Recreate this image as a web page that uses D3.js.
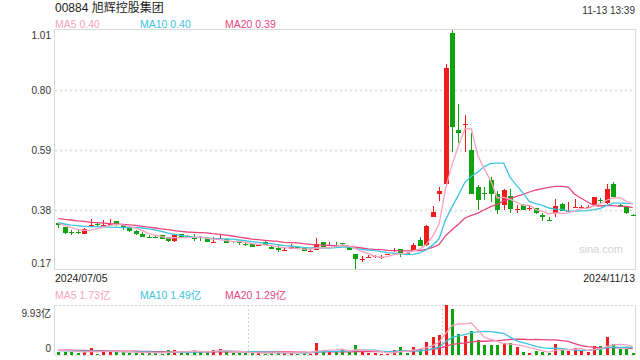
<!DOCTYPE html>
<html><head><meta charset="utf-8">
<script src="https://cdn.jsdelivr.net/npm/d3@7"></script>
<style>
body{margin:0;background:#fff}
svg{display:block;font-family:Arial,"Liberation Sans","Noto Sans CJK SC",sans-serif}
</style>
</head><body>
<svg id="c" width="640" height="360"></svg>
<script>
// ---------- data ----------
const title = "00884 旭辉控股集团";
const stamp = "11-13 13:39";
const dateLabels = ["2024/07/05", "2024/11/13"];
const priceTicks = [0.17, 0.38, 0.59, 0.80, 1.01];

const open  = [.333,.319,.303,.302,.297,.322,.332,.325,.329,.340, .326,.317,.306,.297,.286,.286,.291,.284,.273,.296,
               .288,.283,.284,.277,.266,.280,.277,.270,.271,.261, .260,.256,.269,.252,.248,.239,.245,.250,.246,.236,
               .240,.268,.256,.258,.263,.250,.226,.207,.214,.218, .215,.223,.239,.242,.231,.240,.275,.257,.357,.436,
               .471,1.000,.660,.677,.590,.461,.438,.486,.437,.399, .428,.382,.399,.384,.386,.362,.346,.368,.401,.377,
               .389,.389,.391,.399,.414,.403,.471,.398,.392,.363];
const high  = [.335,.321,.310,.309,.316,.347,.338,.344,.347,.341, .330,.318,.311,.302,.293,.288,.294,.285,.293,.297,
               .293,.296,.290,.279,.284,.295,.282,.272,.272,.267, .261,.262,.270,.253,.256,.249,.261,.252,.247,.243,
               .283,.269,.268,.268,.266,.252,.227,.218,.221,.224, .222,.227,.246,.244,.233,.264,.287,.327,.393,.462,
               .891,1.010,.751,.711,.650,.466,.461,.495,.445,.455, .455,.397,.400,.397,.388,.368,.354,.417,.404,.407,
               .417,.398,.398,.427,.421,.471,.478,.402,.394,.366];
const low   = [.318,.297,.294,.295,.296,.321,.322,.323,.329,.324, .310,.304,.294,.286,.283,.284,.279,.269,.267,.284,
               .282,.273,.273,.267,.264,.279,.264,.266,.259,.253, .251,.255,.258,.244,.233,.237,.245,.246,.236,.233,
               .240,.251,.255,.252,.258,.239,.172,.198,.213,.213, .207,.221,.234,.216,.227,.239,.254,.255,.355,.410,
               .463,.583,.615,.583,.435,.381,.416,.408,.367,.381, .369,.369,.380,.378,.366,.343,.343,.357,.376,.377,
               .386,.386,.390,.398,.405,.402,.424,.392,.367,.360];
const close = [.328,.300,.302,.301,.312,.329,.331,.328,.331,.332, .317,.306,.297,.287,.285,.285,.280,.273,.291,.285,
               .287,.282,.283,.269,.267,.281,.266,.268,.263,.260, .252,.258,.259,.245,.240,.240,.252,.247,.238,.237,
               .261,.252,.258,.257,.260,.241,.208,.209,.215,.220, .217,.225,.241,.230,.229,.258,.255,.324,.374,.446,
               .877,.672,.651,.681,.437,.416,.437,.437,.381,.449, .383,.384,.381,.387,.368,.354,.345,.394,.378,.378,
               .390,.390,.392,.425,.413,.453,.425,.397,.368,.362];
// volume in 亿
const volume = [.60,.66,.60,.40,.60,1.39,.20,.93,.66,.66, .66,.40,.40,.40,.46,.46,.26,.99,.99,.53,
                .46,.99,.60,.53,.99,1.19,.73,.40,.40,.40, .40,.53,.20,.46,.46,.46,.66,.20,.40,.26,
                2.38,.99,.73,.66,.99,.63,1.99,.66,.40,.40, .20,.26,.99,1.59,.46,1.59,1.13,2.58,3.57,3.97,
                9.93,9.14,4.17,3.77,4.77,2.98,1.99,1.99,1.99,2.32, 2.45,1.59,.60,.40,.86,.60,.46,2.18,.99,.86,
                1.39,.86,.60,1.79,1.79,3.57,2.25,1.19,1.19,.40];

const ma5  = [.333,.325,.318,.312,.309,.309,.315,.320,.326,.330, .328,.323,.317,.308,.298,.292,.287,.282,.283,.283,
              .283,.284,.286,.281,.278,.276,.273,.270,.269,.268, .262,.260,.258,.255,.251,.248,.247,.245,.243,.243,
              .247,.247,.249,.253,.258,.254,.245,.235,.227,.219, .214,.217,.224,.227,.228,.237,.243,.259,.288,.331,
              .455,.539,.604,.665,.664,.571,.524,.482,.422,.424, .417,.407,.396,.397,.381,.375,.367,.370,.368,.370,
              .377,.386,.386,.395,.402,.415,.422,.423,.411,.401];
const ma10 = [.336,.331,.327,.325,.323,.322,.322,.321,.320,.319, .318,.319,.318,.317,.314,.310,.305,.299,.295,.291,
              .288,.285,.284,.282,.280,.280,.278,.278,.275,.273, .269,.267,.264,.262,.259,.255,.254,.252,.249,.247,
              .248,.247,.247,.248,.250,.250,.246,.242,.240,.238, .234,.231,.229,.227,.224,.225,.230,.241,.257,.280,
              .346,.391,.432,.477,.498,.513,.532,.543,.544,.544, .494,.466,.439,.409,.402,.396,.387,.383,.382,.375,
              .376,.377,.378,.381,.386,.396,.404,.404,.403,.402];
const ma20 = [.350,.347,.345,.342,.340,.337,.336,.334,.332,.331, .330,.328,.326,.323,.320,.317,.314,.311,.308,.305,
              .303,.302,.301,.300,.297,.295,.292,.289,.285,.282, .278,.276,.274,.272,.270,.267,.266,.265,.262,.260,
              .258,.257,.256,.255,.255,.253,.250,.247,.244,.242, .241,.239,.238,.237,.237,.238,.238,.242,.249,.259,
              .290,.311,.330,.352,.361,.369,.381,.392,.400,.412, .420,.428,.435,.443,.450,.455,.459,.463,.463,.460,
              .435,.421,.408,.395,.394,.396,.395,.393,.393,.388];

const vma5  = [.90,.85,.80,.70,.57,.73,.64,.70,.76,.77, .62,.66,.56,.50,.46,.42,.40,.51,.63,.65,
               .65,.79,.71,.62,.71,.86,.81,.77,.74,.62, .47,.43,.39,.40,.41,.42,.45,.45,.44,.40,
               .78,.85,.95,1.00,1.15,.80,1.00,.99,.93,.82, .73,.38,.45,.69,.70,.98,1.15,1.47,1.87,2.57,
               4.24,5.84,6.16,6.20,6.36,4.97,3.54,3.10,2.74,2.25, 2.15,2.07,1.79,1.47,1.18,.81,.58,.90,1.02,1.02,
               1.18,1.26,.94,1.10,1.29,1.72,2.00,2.12,2.00,1.73];
const vma10 = [.86,.84,.82,.80,.78,.76,.74,.72,.70,.67, .68,.65,.63,.63,.62,.52,.53,.54,.57,.56,
               .54,.59,.61,.63,.68,.75,.80,.74,.68,.67, .66,.62,.58,.57,.52,.44,.44,.42,.42,.40,
               .60,.65,.70,.72,.77,.79,.92,.97,.97,.98, .77,.69,.72,.81,.76,.85,.77,.96,1.28,1.63,
               2.61,3.50,3.81,4.03,4.46,4.60,4.69,4.63,4.47,4.31, 3.56,2.80,2.45,2.11,1.72,1.48,1.33,1.35,1.25,1.10,
               .99,.92,.92,1.06,1.15,1.45,1.63,1.53,1.55,1.49];
const vma20 = [.98,.96,.94,.92,.90,.88,.86,.84,.82,.80, .78,.76,.74,.72,.70,.68,.66,.64,.63,.61,
               .61,.62,.62,.63,.65,.64,.66,.64,.63,.61, .60,.61,.60,.60,.60,.60,.62,.58,.55,.54,
               .63,.63,.64,.65,.65,.62,.68,.69,.69,.69, .68,.67,.71,.77,.77,.82,.85,.96,1.12,1.31,
               1.69,2.09,2.27,2.42,2.61,2.73,2.73,2.79,2.87,2.97, 3.08,3.15,3.13,3.07,3.09,3.04,3.01,2.99,2.86,2.70,
               2.28,1.86,1.68,1.58,1.43,1.46,1.48,1.44,1.40,1.29];

// ---------- styles ----------
const RED = "#f01c1c", GREEN = "#0ea30e";
const C5 = "#f7a3bf", C10 = "#3ec3e1", C20 = "#e8467e";
const GRID = "#e2e2e2", BORDER = "#d9d9d9";

const svg = d3.select("#c");
const L = 55, R = 636;
const mainTop = 30, mainBot = 270;
const volTop = 305, volBot = 355;

const idx = d3.range(close.length);
const x = d3.scaleBand().domain(idx).range([L, R]).padding(0);
const cx = i => Math.round(x(i) + x.bandwidth() / 2);
const bw = Math.round(x.bandwidth() * 0.75);
const vbw = Math.round(x.bandwidth() * 0.45);

const y = d3.scaleLinear().domain([priceTicks[0], priceTicks[priceTicks.length - 1]]).range([mainBot, mainTop]);
const vy = d3.scaleLinear().domain([0, d3.max(volume)]).range([volBot, volTop]);

// ---------- header ----------
svg.append("text").attr("x", 55).attr("y", 8).attr("dominant-baseline", "central")
  .attr("font-size", 12).attr("fill", "#222").text(title);
svg.append("text").attr("x", 635).attr("y", 10).attr("dominant-baseline", "central")
  .attr("text-anchor", "end").attr("font-size", 10).attr("fill", "#333").text(stamp);

function maLegend(yPos, vals, suffix) {
  const items = [["MA5", vals[0], C5, 55], ["MA10", vals[1], C10, 140], ["MA20", vals[2], C20, 225]];
  items.forEach(([n, v, c, xp]) => {
    svg.append("text").attr("x", xp).attr("y", yPos).attr("dominant-baseline", "central")
      .attr("font-size", 10.5).attr("fill", c).text(n + " " + v.toFixed(2) + suffix);
  });
}
const last = close.length - 1;
maLegend(23.5, [ma5[last], ma10[last], ma20[last]], "");
maLegend(295, [vma5[last], vma10[last], vma20[last]], "亿");

// ---------- main panel ----------
const main = svg.append("g");
main.append("rect").attr("x", L - 0.5).attr("y", mainTop - 0.5).attr("width", 635.5 - (L - 0.5))
  .attr("height", mainBot - mainTop).attr("fill", "none").attr("stroke", BORDER);

main.selectAll("line.grid").data(priceTicks.slice(1, -1)).join("line").attr("class", "grid")
  .attr("x1", L).attr("x2", 635).attr("y1", d => Math.round(y(d)) + 0.5).attr("y2", d => Math.round(y(d)) + 0.5)
  .attr("stroke", GRID).attr("stroke-width", 2).attr("stroke-dasharray", "2,3");

const yAxis = d3.axisLeft(y).tickValues(priceTicks).tickSize(0).tickPadding(4).tickFormat(d3.format(".2f"));
const yg = svg.append("g").attr("transform", `translate(${L},0)`).call(yAxis);
yg.select(".domain").remove();
yg.selectAll("text").attr("font-size", 10).attr("fill", "#333").attr("font-family", null)
  .attr("dy", null).attr("dominant-baseline", "central")
  .attr("y", d => d === priceTicks[0] ? -7 : d === priceTicks[priceTicks.length - 1] ? 5 : 0);

svg.append("text").attr("x", 623).attr("y", 249).attr("text-anchor", "end").attr("dominant-baseline", "central")
  .attr("font-size", 11).attr("fill", "#d4d4d4").text("sina.com");

const candles = main.append("g").attr("shape-rendering", "crispEdges");
const col = i => close[i] >= open[i] ? RED : GREEN;
candles.selectAll("line.wick").data(idx).join("line").attr("class", "wick")
  .attr("x1", i => cx(i) + 0.5).attr("x2", i => cx(i) + 0.5)
  .attr("y1", i => Math.round(y(high[i]))).attr("y2", i => Math.round(y(low[i])))
  .attr("stroke", col).attr("stroke-width", 1);
candles.selectAll("rect.body").data(idx).join("rect").attr("class", "body")
  .attr("x", i => cx(i) - Math.floor(bw / 2)).attr("width", bw)
  .attr("y", i => Math.round(y(Math.max(open[i], close[i]))))
  .attr("height", i => Math.max(1, Math.round(y(Math.min(open[i], close[i]))) - Math.round(y(Math.max(open[i], close[i])))))
  .attr("fill", col);

const lineP = d3.line().x((d, i) => x(i) + x.bandwidth() / 2).y(d => y(d));
[[ma20, C20], [ma10, C10], [ma5, C5]].forEach(([arr, c]) => {
  main.append("path").attr("d", lineP(arr)).attr("fill", "none").attr("stroke", c).attr("stroke-width", 1.3);
});

// ---------- date labels ----------
svg.append("text").attr("x", 55).attr("y", 278).attr("dominant-baseline", "central")
  .attr("font-size", 10.5).attr("fill", "#222").text(dateLabels[0]);
svg.append("text").attr("x", 635).attr("y", 278).attr("dominant-baseline", "central").attr("text-anchor", "end")
  .attr("font-size", 10.5).attr("fill", "#222").text(dateLabels[1]);

// ---------- volume panel ----------
const vol = svg.append("g");
vol.append("line").attr("x1", L - 0.5).attr("x2", L - 0.5).attr("y1", volTop).attr("y2", volBot).attr("stroke", BORDER);
vol.append("line").attr("x1", 635.5).attr("x2", 635.5).attr("y1", volTop).attr("y2", volBot).attr("stroke", BORDER);
[volTop, volBot].forEach(yy => vol.append("line").attr("x1", L).attr("x2", 635).attr("y1", yy + 0.5).attr("y2", yy + 0.5)
  .attr("stroke", "#d4d4d4").attr("stroke-dasharray", "2,2"));
[1, 2].forEach(k => {
  const xx = Math.round(L + (635 - L) * k / 3) + 0.5;
  vol.append("line").attr("x1", xx).attr("x2", xx).attr("y1", volTop).attr("y2", volBot)
    .attr("stroke", "#d4d4d4").attr("stroke-dasharray", "2,2");
});

vol.append("g").attr("shape-rendering", "crispEdges").selectAll("rect").data(idx).join("rect")
  .attr("x", i => cx(i) - Math.floor(vbw / 2)).attr("width", vbw)
  .attr("y", i => Math.round(vy(volume[i]))).attr("height", i => volBot - Math.round(vy(volume[i])))
  .attr("fill", col);

const lineV = d3.line().x((d, i) => x(i) + x.bandwidth() / 2).y(d => vy(d));
[[vma20, C20], [vma10, C10], [vma5, C5]].forEach(([arr, c]) => {
  vol.append("path").attr("d", lineV(arr)).attr("fill", "none").attr("stroke", c).attr("stroke-width", 1.3);
});

svg.append("text").attr("x", 51).attr("y", 313).attr("text-anchor", "end").attr("dominant-baseline", "central")
  .attr("font-size", 10).attr("fill", "#333").text(d3.max(volume).toFixed(2) + "亿");
svg.append("text").attr("x", 51).attr("y", 348).attr("text-anchor", "end").attr("dominant-baseline", "central")
  .attr("font-size", 10).attr("fill", "#333").text("0");
</script>
</body></html>
